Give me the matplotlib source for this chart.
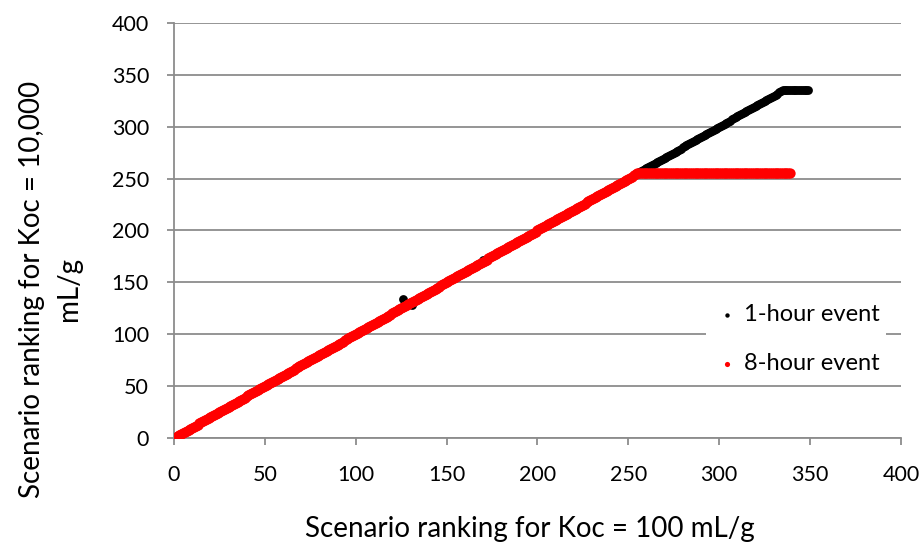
import numpy as np
import matplotlib.pyplot as plt

plt.rcParams['font.family'] = ['Lato', 'DejaVu Sans']

# scenario rankings: runs where rank(Koc=10,000) follows rank(Koc=100),
# then the tied block at the end; plus a few off-line scenarios
hr1_run_start = [1, 336]
hr1_run_end = [335, 349]
hr1_run_level = [None, 335]      # None -> same rank on both axes
hr1_extra_x = [126, 131, 170]
hr1_extra_y = [134, 128, 172]

hr8_run_start = [1, 256]
hr8_run_end = [255, 339]
hr8_run_level = [None, 255]

def build(starts, ends, levels):
    xs, ys = [], []
    for s, e, lv in zip(starts, ends, levels):
        r = np.arange(s, e + 1)
        xs.append(r)
        ys.append(r if lv is None else np.full(r.size, lv))
    return np.concatenate(xs), np.concatenate(ys)

x1, y1 = build(hr1_run_start, hr1_run_end, hr1_run_level)
x1 = np.concatenate([x1, hr1_extra_x])
y1 = np.concatenate([y1, hr1_extra_y])
x8, y8 = build(hr8_run_start, hr8_run_end, hr8_run_level)

fig = plt.figure(figsize=(9.24, 5.42), dpi=100)
ax = fig.add_axes([0.1883, 0.1919, 0.7867, 0.7657])

ax.scatter(x1, y1, s=40, color='black', linewidths=0, label='1-hour event', zorder=3)
ax.scatter(x8, y8, s=55, color='#ff0000', linewidths=0, label='8-hour event', zorder=4)

ax.set_xlim(0, 400)
ax.set_ylim(0, 400)
ax.set_xticks(np.arange(0, 401, 50))
ax.set_yticks(np.arange(0, 401, 50))
ax.grid(axis='y', color='#8c8c8c', linewidth=1.3)
ax.set_axisbelow(True)
for side in ['top', 'right']:
    ax.spines[side].set_visible(False)
for side in ['left', 'bottom']:
    ax.spines[side].set_color('#8c8c8c')
    ax.spines[side].set_linewidth(1.3)
ax.tick_params(axis='both', direction='out', length=5, width=1.3, color='#8c8c8c',
               labelsize=15.5)
ax.tick_params(axis='x', pad=14.5)
ax.tick_params(axis='y', pad=13)

ax.set_xlabel('Scenario ranking for Koc = 100 mL/g', fontsize=20)
ax.xaxis.set_label_coords(0.4897, -0.2386)
ax.xaxis.label.set_verticalalignment('baseline')
ax.set_ylabel('Scenario ranking for Koc = 10,000\nmL/g', fontsize=20,
              linespacing=1.5)
ax.yaxis.set_label_coords(-0.127, 0.359)

leg = ax.legend(loc='lower right', bbox_to_anchor=(0.98, 0.137), frameon=True,
                fontsize=17, markerscale=0.5, handletextpad=0.1, handlelength=1.2,
                labelspacing=1.2, borderpad=0.3, borderaxespad=0)
leg.get_frame().set_edgecolor('none')
leg.get_frame().set_facecolor('white')
leg.get_frame().set_alpha(1)

fig.savefig('out.png', dpi=100)
